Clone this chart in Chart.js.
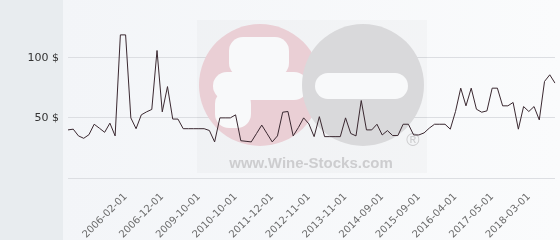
<!DOCTYPE html>
<html>
<head>
<meta charset="utf-8">
<script src="https://cdn.jsdelivr.net/npm/chart.js@4.4.1/dist/chart.umd.min.js"></script>
<style>
    html, body { margin: 0; padding: 0; background: #f6f7f9; }
    #box { width: 560px; height: 240px; }
</style>
</head>
<body>
<div id="box"><canvas id="priceChart" width="560" height="240"></canvas></div>
<script>
// price per bottle, one value per listing
const prices = [40, 40.6, 35, 33, 36, 44.7, 41.4, 38, 45.6, 35,
    119, 119, 50, 41, 52.5, 55, 57, 106, 55, 76,
    49, 49, 41, 41, 41, 41, 41, 39.5, 30, 50,
    50, 50, 52.5, 31, 30.5, 30, 37, 44, 37, 30,
    35, 54.7, 55.3, 35, 42, 50, 45, 34.4, 51, 34.4,
    34.4, 34.4, 34.4, 50, 37, 35, 64.4, 40, 40, 44.7,
    35.8, 39.4, 35.3, 35.3, 44.7, 44.7, 35.8, 35.8, 37.5, 41.5,
    44.7, 44.7, 44.7, 40.6, 55.3, 74.7, 60, 74.7, 57.2, 54.7,
    55.8, 74.7, 74.7, 60, 60, 62.8, 40.6, 59.4, 55.3, 59.4,
    48.3, 80.3, 85.8, 78.9];

// dates shown under the axis (every 7th point, starting at point 11)
const dateLabels = ["2006-02-01", "2006-12-01", "2009-10-01", "2010-10-01", "2011-12-01", "2012-11-01",
    "2013-11-01", "2014-09-01", "2015-09-01", "2016-04-01", "2017-05-01", "2018-03-01"];
const labelStart = 11;
const labelStep = 7;

const yTicks = [0, 50, 100];
const yMax = 148;

const categories = prices.map((p, i) => {
    const k = (i - labelStart) / labelStep;
    return (k >= 0 && Number.isInteger(k) && k < dateLabels.length) ? dateLabels[k] : "";
});

// panel backgrounds
const backdrop = {
    id: "backdrop",
    beforeDraw(chart) {
        const c = chart.ctx;
        c.save();
        const g = c.createLinearGradient(63, 0, chart.width, 0);
        g.addColorStop(0, "#f3f5f8");
        g.addColorStop(1, "#fafbfc");
        c.fillStyle = g;
        c.fillRect(0, 0, chart.width, chart.height);
        c.fillStyle = "#e8ecef";
        c.fillRect(0, 0, 63, chart.height);
        c.restore();
    }
};

function roundBar(c, x, y, w, h, r) {
    c.beginPath();
    c.roundRect(x, y, w, h, r);
    c.fill();
}

// wine-stocks logo behind the line
const watermark = {
    id: "watermark",
    beforeDatasetsDraw(chart) {
        const c = chart.ctx;
        c.save();
        c.fillStyle = "rgba(0,0,0,0.018)";
        c.fillRect(197, 20, 230, 153);

        c.fillStyle = "#eacfd5";
        c.beginPath();
        c.arc(260, 85, 61, 0, Math.PI * 2);
        c.fill();
        c.fillStyle = "#f8f9fa";
        roundBar(c, 229, 37, 60, 40, 14);
        roundBar(c, 213, 72, 95, 28, 14);
        roundBar(c, 215, 90, 36, 38, 14);

        c.fillStyle = "#d9d9db";
        c.beginPath();
        c.arc(363, 85, 61, 0, Math.PI * 2);
        c.fill();
        c.fillStyle = "#f8f9fa";
        roundBar(c, 315, 73, 93, 26, 13);

        c.fillStyle = "#cdcdcf";
        c.font = "bold 15px 'Liberation Sans', Arial, sans-serif";
        c.textAlign = "center";
        c.textBaseline = "alphabetic";
        c.fillText("www.Wine-Stocks.com", 311, 168);
        c.font = "18px 'Liberation Sans', Arial, sans-serif";
        c.fillText("\u00ae", 413, 146);
        c.restore();
    }
};

new Chart(document.getElementById("priceChart"), {
    type: "line",
    data: {
        labels: categories,
        datasets: [{
            data: prices,
            borderColor: "#3a2830",
            borderWidth: 1,
            pointRadius: 0,
            tension: 0,
            fill: false
        }]
    },
    options: {
        responsive: false,
        animation: false,
        layout: { padding: { top: 0, right: 5, bottom: 0, left: 0 } },
        plugins: {
            legend: { display: false },
            tooltip: { enabled: false }
        },
        scales: {
            x: {
                offset: false,
                grid: { display: false, drawTicks: false },
                border: { display: false },
                afterFit: (scale) => {
                    scale.height = 62;
                    scale.paddingLeft = 0;
                    scale.paddingRight = 0;
                },
                ticks: {
                    autoSkip: false,
                    minRotation: 45,
                    maxRotation: 45,
                    padding: 13,
                    color: "#6b6b6b",
                    font: { family: "'DejaVu Sans'", size: 10 },
                    callback: function (value, index) { return categories[index]; }
                }
            },
            y: {
                min: 0,
                max: yMax,
                afterBuildTicks: (scale) => { scale.ticks = yTicks.map(v => ({ value: v })); },
                afterFit: (scale) => {
                    scale.width = 68;
                    scale.paddingTop = 0;
                    scale.paddingBottom = 0;
                },
                grid: { color: "#dcdee2", drawTicks: false },
                border: { display: false },
                ticks: {
                    padding: 9,
                    color: "#333333",
                    font: { family: "'DejaVu Sans'", size: 11 },
                    callback: (v) => v === 0 ? "" : v + " $"
                }
            }
        }
    },
    plugins: [backdrop, watermark]
});
</script>
</body>
</html>
